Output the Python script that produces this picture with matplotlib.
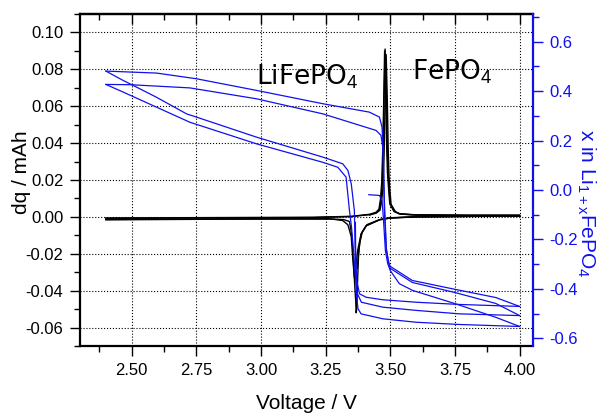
"""
LiFePO4 dq/dV + x in Li(1+x)FePO4 vs voltage, twin y axes
"""
import numpy as np
import matplotlib
matplotlib.use('Agg')
import matplotlib.pyplot as plt
from matplotlib.ticker import MultipleLocator

plt.rcParams['font.family'] = ['Liberation Sans', 'DejaVu Sans']
plt.rcParams['mathtext.fontset'] = 'custom'
plt.rcParams['mathtext.rm'] = 'Liberation Sans'
plt.rcParams['mathtext.it'] = 'Liberation Sans:italic'
plt.rcParams['axes.unicode_minus'] = False

# ---- dq curves (left axis), charge cycles ----
chg1_v = [2.40, 2.80, 3.20, 3.35, 3.42, 3.445, 3.458, 3.464, 3.469, 3.472, 3.476, 3.480,
          3.484, 3.488, 3.491, 3.494, 3.499, 3.516, 3.535, 3.60, 3.80, 4.00]
chg1_dq = [-0.0008, -0.0006, -0.0004, 0.0002, 0.0012, 0.0022, 0.0038, 0.0090, 0.018, 0.036,
           0.065, 0.091, 0.070, 0.040, 0.025, 0.018, 0.0074, 0.0029, 0.0016, 0.0010, 0.0008, 0.0008]
chg2_v = [2.40, 2.80, 3.20, 3.35, 3.42, 3.445, 3.456, 3.462, 3.467, 3.471, 3.475, 3.478,
          3.482, 3.486, 3.489, 3.493, 3.498, 3.514, 3.535, 3.60, 3.80, 4.00]
chg2_dq = [-0.0006, -0.0004, -0.0002, 0.0003, 0.0014, 0.0025, 0.0042, 0.0095, 0.019, 0.038,
           0.066, 0.090, 0.068, 0.038, 0.024, 0.016, 0.0070, 0.0030, 0.0017, 0.0011, 0.0009, 0.0009]
chg3_v = [3.42, 3.445, 3.460, 3.466, 3.472, 3.476, 3.480, 3.484, 3.488, 3.492, 3.495,
          3.498, 3.503, 3.520, 3.540, 3.60, 3.80, 4.00]
chg3_dq = [0.0010, 0.0020, 0.0036, 0.0080, 0.016, 0.034, 0.062, 0.088, 0.066, 0.036, 0.022,
           0.015, 0.0068, 0.0028, 0.0015, 0.0010, 0.0008, 0.0008]

# ---- dq curves, discharge cycles ----
dis1_v = [4.00, 3.80, 3.60, 3.50, 3.458, 3.407, 3.387, 3.378, 3.373, 3.370, 3.368, 3.366,
          3.362, 3.357, 3.352, 3.342, 3.32, 3.28, 3.10, 2.80, 2.40]
dis1_dq = [0.0004, 0.0003, 0.0000, -0.0006, -0.0016, -0.0048, -0.0093, -0.018, -0.036, -0.050,
           -0.052, -0.045, -0.036, -0.023, -0.0107, -0.0025, -0.0015, -0.0012, -0.0012, -0.0013, -0.0016]
dis2_v = [4.00, 3.60, 3.50, 3.458, 3.407, 3.387, 3.374, 3.368, 3.361, 3.355, 3.349, 3.336,
          3.316, 3.265, 3.00, 2.40]
dis2_dq = [0.0004, 0.0000, -0.0006, -0.0016, -0.0048, -0.0093, -0.018, -0.025, -0.033, -0.023,
           -0.0107, -0.0043, -0.0020, -0.0010, -0.0010, -0.0014]
dis3_v = [4.00, 3.60, 3.50, 3.46, 3.41, 3.392, 3.382, 3.376, 3.372]
dis3_dq = [0.0005, 0.0001, -0.0005, -0.0014, -0.0042, -0.0080, -0.014, -0.022, -0.028]

# ---- x in Li(1+x)FePO4 (right axis) ----
c1_v = [3.417, 3.458, 3.468, 3.473, 3.481, 3.490, 3.500, 3.535, 3.586, 3.751, 3.908, 4.00]
c1_x = [-0.019, -0.022, -0.042, -0.110, -0.245, -0.298, -0.326, -0.379, -0.406, -0.460, -0.515, -0.552]

d1_v = [4.00, 3.767, 3.600, 3.471, 3.387, 3.375, 3.369, 3.365, 3.361, 3.349, 3.336, 3.316,
        3.239, 2.982, 2.750, 2.712, 2.596, 2.500, 2.467, 2.40]
d1_x = [-0.552, -0.544, -0.535, -0.521, -0.501, -0.480, -0.420, -0.300, -0.083, 0.025, 0.079, 0.106,
        0.133, 0.214, 0.295, 0.308, 0.375, 0.426, 0.443, 0.481]

c2_v = [2.40, 2.596, 2.750, 2.982, 3.239, 3.419, 3.458, 3.468, 3.473, 3.477, 3.484, 3.493,
        3.500, 3.585, 3.751, 3.908, 4.00]
c2_x = [0.481, 0.473, 0.450, 0.403, 0.349, 0.315, 0.295, 0.254, 0.160, -0.083, -0.231, -0.293,
        -0.317, -0.374, -0.415, -0.459, -0.508]

d2_v = [4.00, 3.767, 3.600, 3.471, 3.388, 3.373, 3.365, 3.358, 3.350, 3.342, 3.329, 3.297,
        3.239, 2.982, 2.725, 2.596, 2.467, 2.40]
d2_x = [-0.508, -0.501, -0.487, -0.474, -0.454, -0.420, -0.350, -0.250, -0.150, -0.083, 0.052, 0.092,
        0.112, 0.187, 0.274, 0.335, 0.396, 0.427]

c3_v = [2.40, 2.493, 2.725, 2.982, 3.239, 3.445, 3.464, 3.471, 3.477, 3.485, 3.495, 3.500,
        3.585, 3.751, 3.908, 4.00]
c3_x = [0.427, 0.426, 0.413, 0.369, 0.308, 0.241, 0.221, 0.173, -0.042, -0.245, -0.297, -0.309,
        -0.366, -0.402, -0.435, -0.471]

d3_v = [4.00, 3.767, 3.600, 3.471, 3.407, 3.381, 3.370, 3.366, 3.365]
d3_x = [-0.471, -0.463, -0.454, -0.444, -0.434, -0.420, -0.366, -0.245, -0.131]

BLUE = '#1010ee'

fig = plt.figure(figsize=(5.99, 4.15), dpi=100)
ax1 = fig.add_axes([0.1336, 0.1663, 0.7554, 0.8])

# 黑色 dq 曲線
for v, dq in [(chg1_v, chg1_dq), (chg2_v, chg2_dq), (chg3_v, chg3_dq),
              (dis1_v, dis1_dq), (dis2_v, dis2_dq), (dis3_v, dis3_dq)]:
    ax1.plot(v, dq, color='black', lw=1.0)

ax1.set_xlim(2.3, 4.05)
ax1.set_ylim(-0.07, 0.11)
ax1.xaxis.set_major_locator(MultipleLocator(0.25))
ax1.xaxis.set_minor_locator(MultipleLocator(0.125))
ax1.yaxis.set_major_locator(MultipleLocator(0.02))
ax1.yaxis.set_minor_locator(MultipleLocator(0.01))
ax1.tick_params(which='major', direction='out', length=7, width=1.0, labelsize=12, pad=5)
ax1.tick_params(which='minor', direction='out', length=4, width=1.0)
ax1.grid(True, which='major', ls=':', color='black', lw=0.8)
ax1.set_xlabel('Voltage / V', fontsize=15)
ax1.xaxis.set_label_coords(0.5, -0.145)
ax1.set_ylabel('dq / mAh', fontsize=15)
ax1.yaxis.set_label_coords(-0.108, 0.524)
for s in ['left', 'bottom', 'top']:
    ax1.spines[s].set_linewidth(1.6)
ax1.spines['right'].set_visible(False)

# 上方內向刻度
top = ax1.secondary_xaxis('top')
top.xaxis.set_major_locator(MultipleLocator(0.25))
top.xaxis.set_minor_locator(MultipleLocator(0.125))
top.tick_params(which='major', direction='in', length=7, width=1.0, labeltop=False)
top.tick_params(which='minor', direction='in', length=4, width=1.0)
top.spines['top'].set_linewidth(1.6)

ax1.text(2.982, 0.0715, 'LiFePO$_4$', fontsize=19, family='DejaVu Sans', va='baseline')
ax1.text(3.584, 0.0742, 'FePO$_4$', fontsize=19, family='DejaVu Sans', va='baseline')

# 藍色 x 曲線（右軸）
ax2 = ax1.twinx()
for v, x in [(c1_v, c1_x), (d1_v, d1_x), (c2_v, c2_x), (d2_v, d2_x), (c3_v, c3_x), (d3_v, d3_x)]:
    ax2.plot(v, x, color=BLUE, lw=0.9)
ax2.set_ylim(-0.631, 0.712)
ax2.yaxis.set_major_locator(MultipleLocator(0.2))
ax2.yaxis.set_minor_locator(MultipleLocator(0.1))
ax2.tick_params(which='major', direction='out', length=7, width=1.0, labelsize=12, pad=5,
                color=BLUE, labelcolor=BLUE)
ax2.tick_params(which='minor', direction='out', length=4, width=1.0, color=BLUE)
for s in ['left', 'bottom', 'top']:
    ax2.spines[s].set_visible(False)
ax2.spines['right'].set_color(BLUE)
ax2.spines['right'].set_linewidth(1.6)
ax2.set_ylabel(r'x in Li$_{\mathregular{1+x}}$FePO$_\mathregular{4}$', color=BLUE, fontsize=15,
               rotation=-90, va='baseline')
ax2.yaxis.set_label_coords(1.106, 0.43)

fig.savefig('out.png', dpi=100)
